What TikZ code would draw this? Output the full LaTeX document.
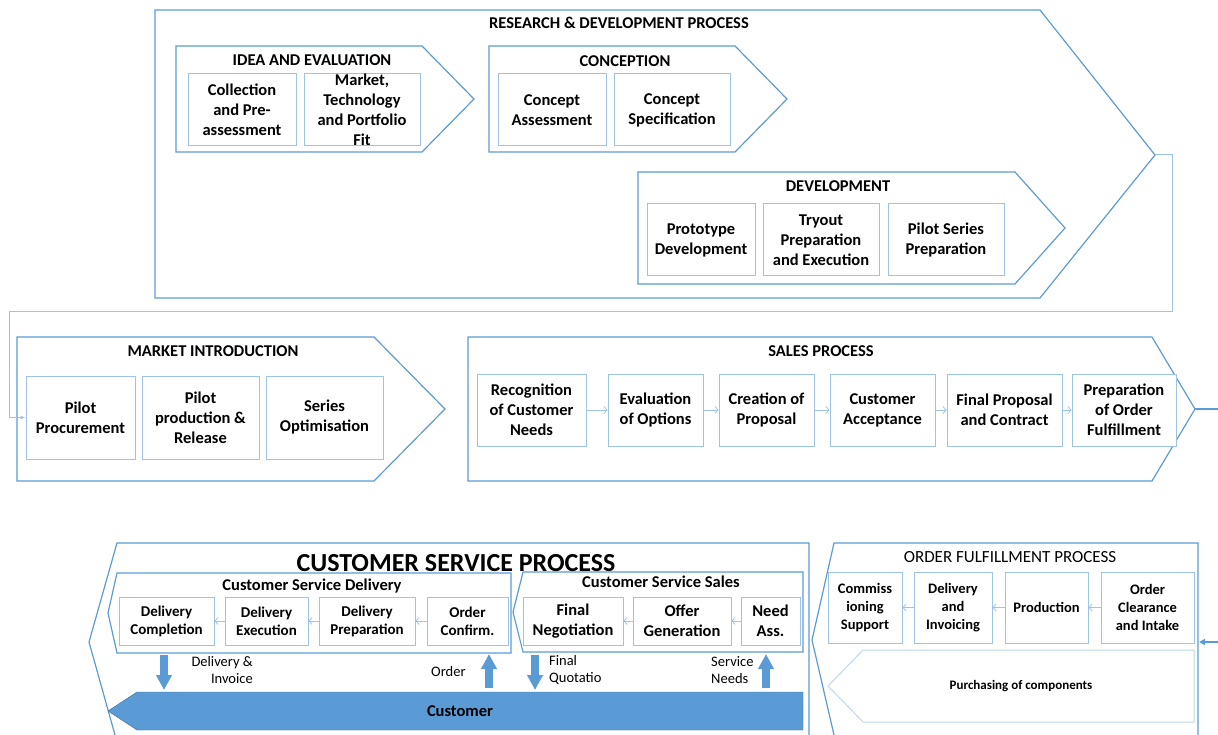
\documentclass[tikz,border=0pt]{standalone}
\usepackage{fontspec}
\setmainfont{Carlito}
\usetikzlibrary{arrows.meta}

\definecolor{lineblue}{RGB}{91,155,213}
\definecolor{boxblue}{RGB}{157,195,230}
\definecolor{paleblue}{RGB}{189,215,238}
\definecolor{darkblue}{RGB}{65,113,156}

\tikzset{
  phase/.style = {draw = lineblue, line width = 1.2pt},
  title/.style = {inner sep = 0pt, font = \fontsize{16.5}{20}\selectfont\bfseries},
  stepbox/.style = {draw = boxblue, fill = white, line width = 1pt, align = center, inner sep = 0pt, font = \fontsize{16.5}{20}\selectfont\bfseries},
  smallbox/.style = {stepbox, font = \fontsize{15}{18}\selectfont\bfseries},
  flow/.style = {draw = boxblue, line width = 0.8pt, -{Straight Barb[length = 3pt, width = 7pt]}},
  link/.style = {draw = boxblue, line width = 1pt, -{Latex[length = 5pt, width = 4pt]}},
  bigarrow/.style = {draw = lineblue, line width = 8pt, -{Triangle[length = 15pt, width = 15pt]}},
  note/.style = {inner sep = 0pt, font = \fontsize{14.5}{17.5}\selectfont}
}

\begin{document}
\begin{tikzpicture}[x = 1pt, y = -1pt]
  \useasboundingbox (0, 0) rectangle (1218, 735);

  % research and development
  \draw[phase] (155, 10) -- (1040, 10) -- (1155, 155) -- (1040, 298) -- (155, 298) -- cycle;
  \node[title] (rdt) at (619, 23) {RESEARCH \& DEVELOPMENT PROCESS};

  \draw[phase] (176, 46) -- (422, 46) -- (474, 99) -- (422, 152) -- (176, 152) -- cycle;
  \node[title] (iet) at (312, 60) {IDEA AND EVALUATION};
  \node[stepbox, minimum width = 108, minimum height = 72] (cpa) at (242, 110) {Collection\\and Pre-\\assessment};
  \node[stepbox, minimum width = 116, minimum height = 72] (mtp) at (362, 110) {};
  \node[title, align = center] (mtpt) at (mtp) {Market,\\Technology\\and Portfolio\\Fit};

  \draw[phase] (489, 46) -- (735, 46) -- (787, 99) -- (735, 152) -- (489, 152) -- cycle;
  \node[title] (cot) at (625, 61) {CONCEPTION};
  \node[stepbox, minimum width = 108, minimum height = 72] (cas) at (552, 110) {Concept\\Assessment};
  \node[stepbox, minimum width = 116, minimum height = 72] (csp) at (672, 110) {Concept\\Specification};

  \draw[phase] (638, 172) -- (1015, 172) -- (1065, 228) -- (1015, 284) -- (638, 284) -- cycle;
  \node[title] (dvt) at (838, 186) {DEVELOPMENT};
  \node[stepbox, minimum width = 108, minimum height = 72] (pdv) at (701, 240) {Prototype\\Development};
  \node[stepbox, minimum width = 116, minimum height = 72] (tpe) at (821, 240) {Tryout\\Preparation\\and Execution};
  \node[stepbox, minimum width = 116, minimum height = 72] (psp) at (946, 240) {Pilot Series\\Preparation};

  % market introduction
  \draw[phase] (17, 337) -- (374, 337) -- (445, 409) -- (374, 481) -- (17, 481) -- cycle;
  \node[title] (mit) at (213, 351) {MARKET INTRODUCTION};
  \node[stepbox, minimum width = 109, minimum height = 83] (ppr) at (80.5, 417.5) {Pilot\\Procurement};
  \node[stepbox, minimum width = 117, minimum height = 83] (ppl) at (200.5, 417.5) {Pilot\\production \&\\Release};
  \node[stepbox, minimum width = 117, minimum height = 83] (sop) at (324.5, 417.5) {Series\\Optimisation};

  \coordinate (rdtip) at (1155, 155);
  \draw[link] (rdtip) -- (1172, 155) -- (1172, 312) -- (9, 312) |- (ppr.west);

  % sales
  \draw[phase] (468, 337) -- (1152, 337) -- (1195, 409) -- (1152, 481) -- (468, 481) -- cycle;
  \node[title] (spt) at (821, 351) {SALES PROCESS};
  \node[stepbox, minimum width = 109, minimum height = 72] (rcn) at (531.5, 410) {Recognition\\of Customer\\Needs};
  \node[stepbox, minimum width = 95, minimum height = 72] (eop) at (655.5, 410) {Evaluation\\of Options};
  \node[stepbox, minimum width = 95, minimum height = 72] (cop) at (766.5, 410) {Creation of\\Proposal};
  \node[stepbox, minimum width = 105, minimum height = 72] (cac) at (882.5, 410) {Customer\\Acceptance};
  \node[stepbox, minimum width = 115, minimum height = 72] (fpc) at (1004.5, 410) {Final Proposal\\and Contract};
  \node[stepbox, minimum width = 104, minimum height = 72] (pof) at (1124, 410) {Preparation\\of Order\\Fulfillment};
  \draw[flow] (rcn) -- (eop);
  \draw[flow] (eop) -- (cop);
  \draw[flow] (cop) -- (cac);
  \draw[flow] (cac) -- (fpc);
  \draw[flow] (fpc) -- (pof);

  \coordinate (salestip) at (1195, 409);
  \coordinate (salesout) at (1218, 409);
  \draw[draw = lineblue, line width = 1.5pt] (salestip) -- (salesout);

  % customer service
  \draw[phase] (809, 735) -- (809, 543) -- (117, 543) -- (89, 642) -- (115, 735);
  \node[title, font = \fontsize{26}{30}\selectfont\bfseries] (cst) at (456, 563) {CUSTOMER SERVICE PROCESS};

  \draw[phase] (511, 573) -- (117, 573) -- (108, 613) -- (117, 653) -- (511, 653) -- cycle;
  \node[title] (cdt) at (312, 586) {Customer Service Delivery};
  \node[smallbox, minimum width = 95, minimum height = 48] (dcm) at (166.5, 621) {Delivery\\Completion};
  \node[smallbox, minimum width = 83, minimum height = 48] (dex) at (266.5, 621) {Delivery\\Execution};
  \node[smallbox, minimum width = 96, minimum height = 48] (dpr) at (367, 621) {Delivery\\Preparation};
  \node[smallbox, minimum width = 81, minimum height = 48] (ocf) at (467.5, 621) {Order\\Confirm.};
  \draw[flow] (ocf) -- (dpr);
  \draw[flow] (dpr) -- (dex);
  \draw[flow] (dex) -- (dcm);

  \draw[phase] (803, 572) -- (523, 572) -- (513, 612) -- (523, 652) -- (803, 652) -- cycle;
  \node[title] (cst2) at (661, 582) {Customer Service Sales};
  \node[stepbox, minimum width = 100, minimum height = 48] (fng) at (573, 621) {Final\\Negotiation};
  \node[stepbox, minimum width = 98, minimum height = 48] (ogn) at (682, 621) {Offer\\Generation};
  \node[stepbox, minimum width = 59, minimum height = 48] (nas) at (770.5, 621) {Need\\Ass.};
  \draw[flow] (nas) -- (ogn);
  \draw[flow] (ogn) -- (fng);

  \draw[draw = darkblue, fill = lineblue] (803, 692) -- (137, 692) -- (108, 711) -- (137, 730) -- (803, 730) -- cycle;
  \node[title] (cus) at (460, 711) {Customer};

  \coordinate (di1) at (164, 655);
  \coordinate (di2) at (164, 690);
  \coordinate (or1) at (489, 688);
  \coordinate (or2) at (489, 654);
  \coordinate (fq1) at (535, 655);
  \coordinate (fq2) at (535, 690);
  \coordinate (sn1) at (766, 688);
  \coordinate (sn2) at (766, 654);
  \draw[bigarrow] (di1) -- (di2);
  \draw[bigarrow] (or1) -- (or2);
  \draw[bigarrow] (fq1) -- (fq2);
  \draw[bigarrow] (sn1) -- (sn2);

  \node[note, align = right, anchor = east] (dil) at (253, 670) {Delivery \&\\Invoice};
  \node[note, anchor = west] (orl) at (431, 672) {Order};
  \node[note, align = left, anchor = west] (fql) at (549, 670) {Final\\Quotatio};
  \node[note, align = left, anchor = west] (snl) at (711, 670) {Service\\Needs};

  % order fulfillment
  \draw[phase] (1198, 735) -- (1198, 543) -- (834, 543) -- (812, 640) -- (834, 735);
  \node[inner sep = 0pt, font = \fontsize{17}{20}\selectfont] (oft) at (1010, 557) {ORDER FULFILLMENT PROCESS};
  \node[smallbox, font = \fontsize{14.5}{18}\selectfont\bfseries, minimum width = 74, minimum height = 71] (cis) at (865, 607.5) {Commiss\\ioning\\Support};
  \node[smallbox, font = \fontsize{14.5}{18}\selectfont\bfseries, minimum width = 78, minimum height = 71] (dai) at (953, 607.5) {Delivery\\and\\Invoicing};
  \node[smallbox, font = \fontsize{14.5}{18}\selectfont\bfseries, minimum width = 83, minimum height = 71] (prd) at (1046.5, 607.5) {Production};
  \node[smallbox, font = \fontsize{14.5}{18}\selectfont\bfseries, minimum width = 93, minimum height = 71] (oci) at (1147.5, 607.5) {Order\\Clearance\\and Intake};
  \draw[flow] (oci) -- (prd);
  \draw[flow] (prd) -- (dai);
  \draw[flow] (dai) -- (cis);

  \draw[draw = paleblue, line width = 1pt] (1194, 650) -- (863, 650) -- (828, 686) -- (863, 722) -- (1194, 722) -- cycle;
  \node[inner sep = 0pt, font = \fontsize{13}{16}\selectfont\bfseries] (poc) at (1021, 686) {Purchasing of components};

  \coordinate (ofin) at (1218, 642);
  \coordinate (ofedge) at (1199, 642);
  \draw[draw = lineblue, line width = 1.5pt, -{Triangle[length = 6pt, width = 6pt]}] (ofin) -- (ofedge);

\end{tikzpicture}
\end{document}
